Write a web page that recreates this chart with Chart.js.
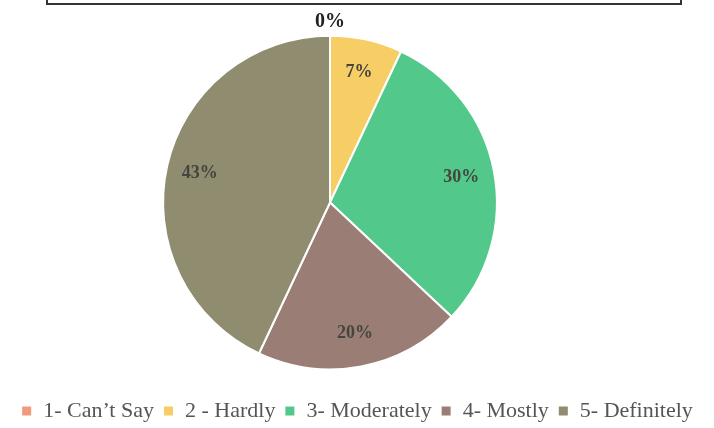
<!DOCTYPE html>
<html>
<head>
<meta charset="utf-8">
<script src="https://cdn.jsdelivr.net/npm/chart.js@4"></script>
<style>
  body { margin: 0; background: #fff; }
  #wrap { position: relative; width: 714px; height: 428px; overflow: hidden; }
  #frame { position: absolute; left: 46px; top: -20px; width: 632px; height: 21px; border: 2px solid #333; }
</style>
</head>
<body>
<div id="wrap">
  <div id="frame"></div>
  <canvas id="chart" width="714" height="428"></canvas>
</div>
<script>
// 데이터
const categories = ["1- Can’t Say", "2 - Hardly", "3- Moderately", "4- Mostly", "5- Definitely"];
const values = [0, 7, 30, 20, 43];
const colors = ["#F09A7E", "#F7CE66", "#52C98A", "#9A7E76", "#8F8C70"];

// 퍼센트 라벨
const pctLabels = {
  id: "pctLabels",
  afterLayout(chart) {
    chart.chartArea.left -= 27;
    chart.chartArea.right -= 27;
  },
  afterDatasetsDraw(chart) {
    const ctx = chart.ctx;
    const meta = chart.getDatasetMeta(0);
    ctx.save();
    ctx.textAlign = "center";
    ctx.textBaseline = "middle";
    meta.data.forEach((arc, i) => {
      const mid = (arc.startAngle + arc.endAngle) / 2;
      const zero = values[i] === 0;
      const r = zero ? arc.outerRadius * 1.085 : arc.outerRadius * 0.8;
      const x = arc.x + Math.cos(mid) * r;
      const y = arc.y + Math.sin(mid) * r;
      ctx.font = zero ? "bold 20px 'Liberation Serif'" : "bold 18px 'Liberation Serif'";
      ctx.fillStyle = zero ? "#222" : "#45453f";
      ctx.fillText(values[i] + "%", x, y);
    });
    ctx.restore();
  }
};

new Chart(document.getElementById("chart"), {
  type: "pie",
  data: {
    labels: categories,
    datasets: [{
      data: values,
      backgroundColor: colors,
      borderColor: "#fff",
      borderWidth: 2
    }]
  },
  options: {
    responsive: false,
    animation: false,
    radius: "89%",
    layout: { padding: { top: 14, bottom: -4 } },
    plugins: {
      tooltip: { enabled: false },
      legend: {
        position: "bottom",
        labels: {
          boxWidth: 11,
          boxHeight: 11,
          padding: 9,
          color: "#555",
          font: { family: "'Liberation Serif'", size: 22 }
        }
      }
    }
  },
  plugins: [pctLabels]
});
</script>
</body>
</html>
